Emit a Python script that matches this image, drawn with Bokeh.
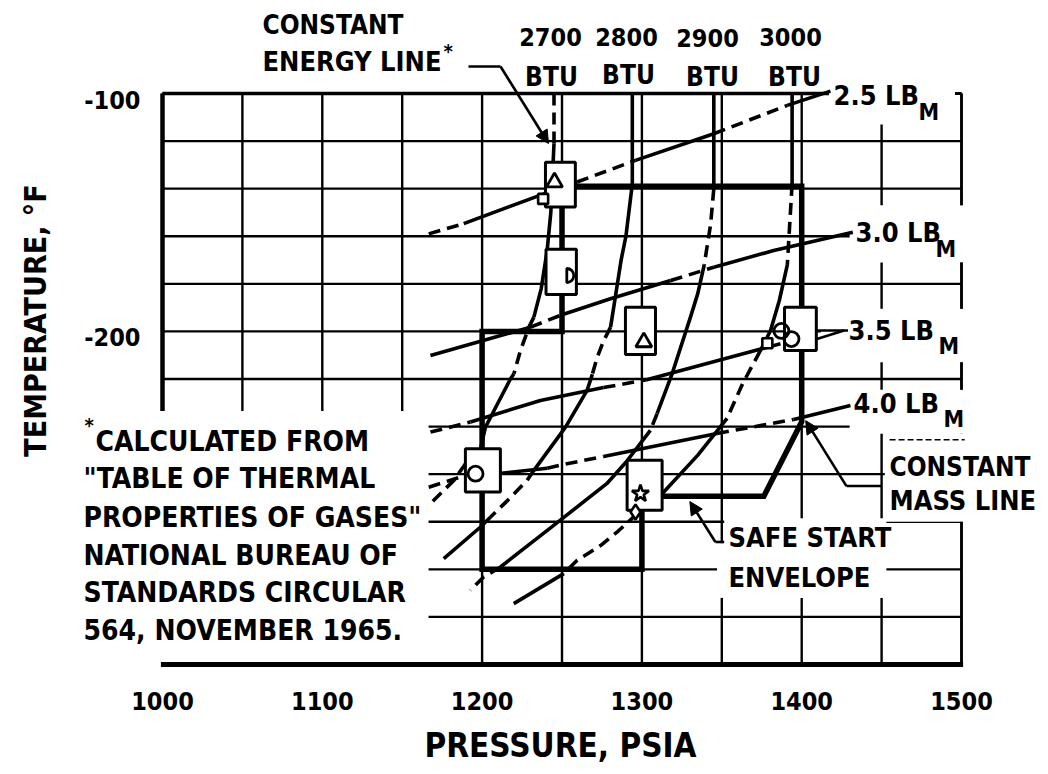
from math import pi
from bokeh.plotting import figure
from bokeh.models import Label, Arrow, NormalHead, Range1d
from bokeh.core.properties import value
from bokeh.embed import file_html
from bokeh.resources import INLINE

# ---------------- data ----------------
x_tick_values = [1000, 1100, 1200, 1300, 1400, 1500]
y_tick_values = [-100, -200]
x_grid_values = [1000, 1050, 1100, 1150, 1200, 1250, 1300, 1350, 1400, 1450, 1500]
y_grid_values = [-340, -320, -300, -280, -260, -240, -220, -200, -180, -160, -140, -120, -100]

energy_labels = ["2700", "2800", "2900", "3000"]
mass_labels = ["2.5", "3.0", "3.5", "4.0"]

# constant energy lines (pressure psia, temperature F)
e2700_p = [1245, 1245, 1243, 1240.7, 1237, 1232.4, 1229.3, 1224, 1219.9, 1217.8, 1210, 1202.1, 1199, 1189.6, 1182.3, 1167.7]
e2700_t = [-100, -121, -150, -166, -182, -194, -198.2, -208, -217.8, -219.9, -230, -240.2, -249.3, -255.6, -262.6, -272.4]
e2800_p = [1294, 1294, 1290, 1287, 1283.5, 1280.4, 1276, 1272, 1269, 1265.7, 1252.2, 1232.4, 1228.2, 1216, 1205.3, 1199, 1176]
e2800_t = [-100, -138, -160, -170, -185, -198.2, -204, -211, -218, -224.8, -240.2, -258.4, -262.6, -271, -278, -282.2, -295.5]
e2900_p = [1345, 1345, 1343, 1339, 1335, 1330.4, 1318.9, 1309.5, 1305.3, 1298, 1290, 1278, 1245, 1211.5, 1201, 1192.7]
e2900_t = [-100, -140, -155, -172, -184, -194, -217.8, -234.6, -241.6, -248, -255, -264, -281.4, -299, -303.2, -308.8]
e3000_p = [1394, 1394, 1392.5, 1391, 1386, 1380.5, 1374.2, 1363, 1353.3, 1335, 1313.7, 1297.1, 1285, 1274.1, 1259.5, 1251.1, 1219.8]
e3000_t = [-100, -138, -155, -172, -187, -199.6, -208, -222, -236.5, -252, -267.5, -276.6, -284, -290, -296.2, -301.8, -314.4]

# constant mass lines
m25_p = [1166.6, 1188.5, 1237, 1259.4, 1296, 1345, 1391, 1418]
m25_t = [-159, -154.7, -142.6, -137.2, -128.1, -116.9, -105, -99]
m30_p = [1167.7, 1230.3, 1250, 1280.3, 1318, 1345, 1382.5, 1432]
m30_t = [-210.1, -198.2, -193.0, -186.3, -178.6, -173.0, -166, -158.3]
m35_p = [1167.7, 1192.7, 1236.5, 1276, 1303, 1386.7]
m35_t = [-242.3, -238.1, -229, -223.6, -220.3, -205.2]
m40_p = [1166.6, 1189.6, 1209.4, 1240.7, 1250, 1276, 1347, 1395, 1430.5]
m40_t = [-265.5, -260.5, -259.8, -257.5, -256, -252.6, -242.9, -237, -231.1]

# solid (s) / dashed (d) pattern of each segment between consecutive points
e2700_seg = "dssssdddsssssdd"
e2800_seg = "sssssdddsssdddss"
e2900_seg = "sddssssdsssssdd"
e3000_seg = "sddsssddsssdddds"
m25_seg = "dssdsds"
m30_seg = "sdssdss"
m35_seg = "dssds"
m40_seg = "dssddsds"

# safe start envelope
env_p = [1250, 1400, 1400, 1376.3, 1300, 1300, 1200, 1200, 1250, 1250]
env_t = [-139, -139, -238, -269.3, -269.3, -300, -300, -200, -200, -139]

# test-point boxes (centre, extent)
box_p = [1249, 1249.5, 1299.1, 1399.2, 1200.5, 1301.7]
box_t = [-138.3, -175, -199.8, -198.9, -258.4, -264.7]
box_dp = [18.7, 19, 18.8, 19.9, 21.9, 21.9]
box_dt = [18.9, 19, 19.9, 18.2, 18.2, 21]

tri_p = [1245.3, 1301.2]
tri_t = [-137.3, -204.5]
circ_p = [1387.3, 1393.6, 1195.9]
circ_t = [-199.8, -203.2, -259.8]
sq_p = [1238.2, 1378.5]
sq_t = [-144.3, -205]
star_p = [1299.1]
star_t = [-268.2]
diam_p = [1296]
diam_t = [-275.9]
half_p = [1253]
half_t = [-176.5]

# ---------------- figure ----------------
FONT = "DejaVu Sans Condensed"
W, H = 1048, 774
X0, Y0, SX, SY = 162.0, 93.0, 1.598, 2.3792   # pixel of (1000 psia, -100 F) and px per unit

p = figure(width=W, height=H, min_border=0,
           x_range=Range1d(1000 - X0 / SX, 1000 + (W - X0) / SX),
           y_range=Range1d(-100 - (H - Y0) / SY, -100 + Y0 / SY),
           x_axis_location=None, y_axis_location=None,
           output_backend="svg", toolbar_location=None)
p.outline_line_color = None
p.background_fill_color = "white"
p.border_fill_color = "white"
p.xgrid.visible = False
p.ygrid.visible = False


def d(x, y):
    """reference pixel -> data coordinates (used only to place annotations)"""
    return 1000 + (x - X0) / SX, -100 - (y - Y0) / SY


# grid
xmin, xmax = x_grid_values[0], x_grid_values[-1]
ymin, ymax = y_grid_values[0], y_grid_values[-1]
p.multi_line(xs=[[g, g] for g in x_grid_values], ys=[[ymin, ymax]] * len(x_grid_values),
             line_color="black", line_width=2.4)
p.multi_line(xs=[[xmin, xmax]] * len(y_grid_values), ys=[[g, g] for g in y_grid_values],
             line_color="black", line_width=2.4)

# white areas that interrupt the grid behind the texts
masks = [(995, 1166.5, -342, -233.5), (1417, 1496, -113, -95), (1430, 1505, -171, -147),
         (1412, 1505, -213, -190.5), (1430, 1505, -243, -224.5), (1452, 1505, -280, -243),
         (1351.5, 1453, -312, -278.5), (1347, 1352, -312, -289)]
p.quad(left=[m[0] for m in masks], right=[m[1] for m in masks],
       bottom=[m[2] for m in masks], top=[m[3] for m in masks],
       fill_color="white", line_color=None)

# frame lines
p.line([xmin, xmin], [ymax, -233.5], line_color="black", line_width=4.5)
p.line([xmin, 1417], [ymax, ymax], line_color="black", line_width=3.5)
p.line([1496, xmax], [ymax, ymax], line_color="black", line_width=3)
p.line([xmin - 1, xmax + 1], [ymin, ymin], line_color="black", line_width=5)
p.multi_line(xs=[[xmax, xmax]] * 4,
             ys=[[ymax, -147], [-171, -190.5], [-213, -224.5], [-280, ymin]],
             line_color="black", line_width=2.6)

# tick labels on the scales' positions
tick_style = dict(text_font=value(FONT), text_font_size="25px", text_font_style="bold",
                  text_color="black", text_baseline="middle")
p.text(x=x_tick_values, y=[ymin] * len(x_tick_values), text=[str(v) for v in x_tick_values],
       text_align="center", y_offset=36, **tick_style)
p.text(x=[xmin] * len(y_tick_values), y=y_tick_values, text=[str(v) for v in y_tick_values],
       text_align="right", x_offset=-22, y_offset=6, **tick_style)


def draw_series(ps, ts, seg, width=3.6):
    i, n = 0, len(seg)
    while i < n:
        j = i
        while j + 1 < n and seg[j + 1] == seg[i]:
            j += 1
        xs, ys = ps[i:j + 2], ts[i:j + 2]
        if seg[i] == "s":
            p.line(xs, ys, line_color="black", line_width=width, line_join="round")
        else:
            p.line(xs, ys, line_color="black", line_width=width, line_dash="12 7")
        i = j + 1


for ps, ts, sg in [(e2700_p, e2700_t, e2700_seg), (e2800_p, e2800_t, e2800_seg),
                   (e2900_p, e2900_t, e2900_seg), (e3000_p, e3000_t, e3000_seg),
                   (m25_p, m25_t, m25_seg), (m30_p, m30_t, m30_seg),
                   (m35_p, m35_t, m35_seg), (m40_p, m40_t, m40_seg)]:
    draw_series(ps, ts, sg)

# safe start envelope
p.line(env_p, env_t, line_color="black", line_width=5.5, line_join="miter")

# boxes and symbols
p.rect(box_p, box_t, width=box_dp, height=box_dt, fill_color="white",
       line_color="black", line_width=3)
p.scatter(tri_p, tri_t, marker="triangle", size=16, fill_color=None, line_color="black", line_width=2.8)
p.scatter(circ_p, circ_t, marker="circle", size=15, fill_color=None, line_color="black", line_width=2.8)
p.scatter(sq_p, sq_t, marker="square", size=10, fill_color="white", line_color="black", line_width=2.6)
p.scatter(star_p, star_t, marker="star", size=18, fill_color=None, line_color="black", line_width=2.6)
p.scatter(diam_p, diam_t, marker="diamond", size=15, fill_color="white", line_color="black", line_width=2.6)
p.wedge(half_p, half_t, radius=7, radius_units="screen", start_angle=-pi / 2, end_angle=pi / 2,
        fill_color=None, line_color="black", line_width=2.8)

# leaders
p.multi_line(xs=[[1409, 1426.5, 1429], [1409, 1426.5]], ys=[[-199.6, -199.6, -199.6], [-203.3, -199.6]],
             line_color="black", line_width=2.6)
p.line([1450, 1428], [-265, -265], line_color="black", line_width=2.6)
p.line([1346, 1351.5], [-288.5, -288.5], line_color="black", line_width=2.6)
p.line([1455, 1502], [-245.5, -245.5], line_color="black", line_width=1.5, line_dash="6 3")

head = dict(size=13, fill_color="black", line_color="black")
p.add_layout(Arrow(end=NormalHead(**head), x_start=1428, y_start=-265, x_end=1402.5, y_end=-237.5,
                   line_color="black", line_width=2.6))
p.add_layout(Arrow(end=NormalHead(**head), x_start=1346, y_start=-288.5, x_end=1330, y_end=-271.5,
                   line_color="black", line_width=2.6))
a0 = d(468, 66); a1 = d(500, 66); a2 = d(548, 143)
p.line([a0[0], a1[0]], [a0[1], a1[1]], line_color="black", line_width=2.6)
p.add_layout(Arrow(end=NormalHead(**head), x_start=a1[0], y_start=a1[1], x_end=a2[0], y_end=a2[1],
                   line_color="black", line_width=2.6))


def label(text, x, y, size=27, align="left", angle=0.0):
    px_, py_ = d(x, y)
    p.add_layout(Label(x=px_, y=py_, text=text, text_font=FONT, text_font_size=f"{size}px",
                       text_font_style="bold", text_color="black", text_align=align,
                       text_baseline="middle", angle=angle))


label("CONSTANT", 262, 24, size=26)
label("ENERGY LINE", 262, 61, size=27)
label("*", 443, 50, size=20)
for txt, cx, cy in zip(energy_labels, [550, 626, 707, 790], [36, 36, 37, 36]):
    label(txt, cx, cy, size=25, align="center")
for cx, cy in zip([551, 628, 712, 794], [76, 74, 76, 76]):
    label("BTU", cx, cy, size=26, align="center")

for m, (lx, ly), (sx, sy) in zip(mass_labels,
                                 [(833, 95), (855, 232), (848, 330), (853, 403)],
                                 [(918, 111), (935, 248), (938, 345), (943, 418)]):
    label(f"{m} LB", lx, ly, size=27)
    label("M", sx, sy, size=23)

label("CONSTANT", 889, 466, size=26)
label("MASS LINE", 889, 500, size=27)
label("SAFE START", 728, 537, size=27)
label("ENVELOPE", 728, 577, size=27)

label("*", 84, 424, size=20)
foot = ["CALCULATED FROM", "\"TABLE OF THERMAL", "PROPERTIES OF GASES\"",
        "NATIONAL BUREAU OF", "STANDARDS CIRCULAR", "564, NOVEMBER 1965."]
for i, line in enumerate(foot):
    label(line, 95 if i == 0 else 83, [441, 478, 517, 555, 592, 630][i], size=28)

label("PRESSURE, PSIA", 560, 745, size=33, align="center")
label("TEMPERATURE, \u00b0F", 35, 320, size=30, align="center", angle=pi / 2)

open("out.html", "w").write(file_html(p, INLINE))
